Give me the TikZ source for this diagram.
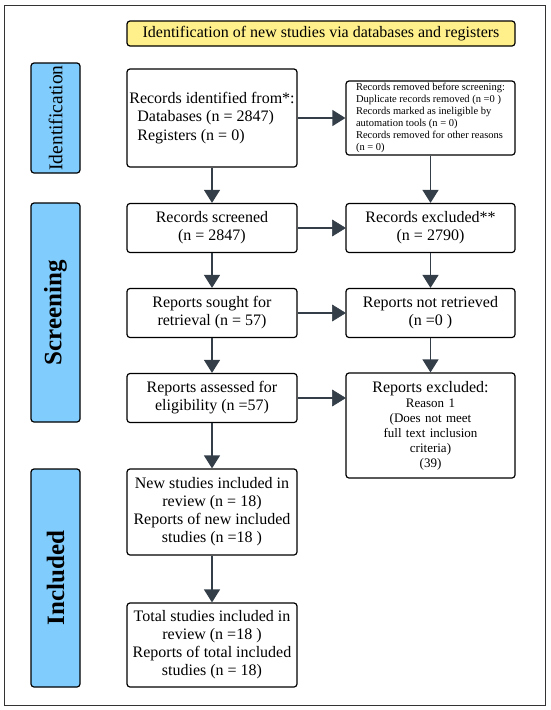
\documentclass[tikz,border=0pt]{standalone}
\usepackage{fontspec}
\setmainfont{Liberation Serif}
\usetikzlibrary{arrows.meta}
\definecolor{arrcol}{RGB}{52,62,72}
\definecolor{sideblue}{RGB}{128,204,252}
\definecolor{titleyellow}{RGB}{255,240,140}
\begin{document}
\begin{tikzpicture}[x=1pt,y=-1pt,
  box/.style={draw=black, line width=1.2pt, rounded corners=3pt, fill=white,
    minimum width=170pt, inner sep=0pt, align=center,
    font=\fontsize{16}{18}\selectfont},
  lbox/.style={draw=black, line width=1.2pt, rounded corners=3pt, fill=white,
    inner sep=0pt, align=left},
  sidebox/.style={draw=black, line width=1.2pt, rounded corners=3pt, fill=sideblue,
    minimum width=49pt, inner sep=0pt},
  sidelabel/.style={rotate=90, inner sep=0pt},
  arr/.style={draw=arrcol, line width=1.3pt, -{Triangle[width=16pt,length=13pt]}},
  hline/.style={draw=arrcol, line width=1.3pt, shorten >=10pt},
  headfill/.style={fill=arrcol, draw=arrcol, line width=0.5pt, line join=miter},
]
\useasboundingbox (0,0) rectangle (550,710);
\node[draw=black!80, line width=1pt, minimum width=541pt, minimum height=700pt, inner sep=0pt] (frame) at (274.5,355) {};

\node[draw=black, line width=1.2pt, rounded corners=3pt, fill=titleyellow,
  minimum width=388pt, minimum height=25pt, inner sep=0pt,
  font=\fontsize{16}{18}\selectfont] (title) at (321,33.5)
  {Identification of new studies via databases and registers};

% side labels
\node[sidebox, minimum height=110pt] (sid) at (55.5,118) {};
\node[sidelabel, font=\fontsize{19.5}{20}\selectfont] (sidt) at (sid.center) {Identification};
\node[sidebox, minimum height=219pt] (ssc) at (55.5,312.5) {};
\node[sidelabel, font=\fontsize{25}{26}\selectfont\bfseries] (ssct) at (ssc.center) {Screening};
\node[sidebox, minimum height=218pt] (sin) at (55.5,578) {};
\node[sidelabel, font=\fontsize{25}{26}\selectfont\bfseries] (sint) at (sin.center) {Included};

% left column
\node[lbox, minimum width=170pt, minimum height=98pt,
  font=\fontsize{16}{18.5}\selectfont] (id) at (212,118)
  {Records identified from*:\\
   \hspace*{8pt}Databases (n = 2847)\\
   \hspace*{8pt}Registers (n = 0)};
\node[box, minimum height=49pt] (scr) at (212,228) {Records screened\\(n = 2847)};
\node[box, minimum height=49pt] (sou) at (212,313) {Reports sought for\\retrieval (n = 57)};
\node[box, minimum height=49pt] (ass) at (212,398) {Reports assessed for\\eligibility (n =57)};
\node[box, minimum height=86pt] (new) at (212,512)
  {New studies included in\\review (n = 18)\\Reports of new included\\studies (n =18 )};
\node[box, minimum height=84pt] (tot) at (212,645)
  {Total studies included in\\review (n =18 )\\Reports of total included\\studies (n = 18)};

% right column
\node[lbox, minimum width=169pt, minimum height=74pt,
  font=\fontsize{10.5}{12.1}\selectfont] (rem) at (430.5,118)
  {Records removed before screening:\\
   Duplicate records removed (n =0 )\\
   Records marked as ineligible by\\
   automation tools (n = 0)\\
   Records removed for other reasons\\
   (n = 0)};
\node[box, minimum width=169pt, minimum height=49pt] (exc) at (430.5,228) {Records excluded**\\(n = 2790)};
\node[box, minimum width=169pt, minimum height=49pt] (nre) at (430.5,313) {Reports not retrieved\\(n =0 )};
\node[box, minimum width=169pt, minimum height=105pt, text width=160pt,
  font=\fontsize{13}{15}\selectfont] (rex) at (430.5,425.5)
  {{\fontsize{16}{18}\selectfont Reports excluded:}\\
   Reason 1\\(Does not meet\\full text inclusion\\criteria)\\(39)};
\coordinate (rexin) at (rex.west |- ass.east);

% connectors
\draw[arr] (id) -- (rem);
\draw[arr] (id) -- (scr);
\draw[arr] (rem) -- (exc);
\draw[hline] (scr.east) -- (exc.west);
\filldraw[headfill] (exc.west) -- ++(-13,-8) -- ++(0,16) -- cycle;
\draw[arr] (scr) -- (sou);
\draw[arr] (exc) -- (nre);
\draw[hline] (sou.east) -- (nre.west);
\filldraw[headfill] (nre.west) -- ++(-13,-8) -- ++(0,16) -- cycle;
\draw[arr] (sou) -- (ass);
\draw[arr] (nre) -- (rex);
\draw[hline] (ass.east) -- (rexin);
\filldraw[headfill] (rexin) -- ++(-13,-8) -- ++(0,16) -- cycle;
\draw[arr] (ass) -- (new);
\draw[arr] (new) -- (tot);
\end{tikzpicture}
\end{document}
